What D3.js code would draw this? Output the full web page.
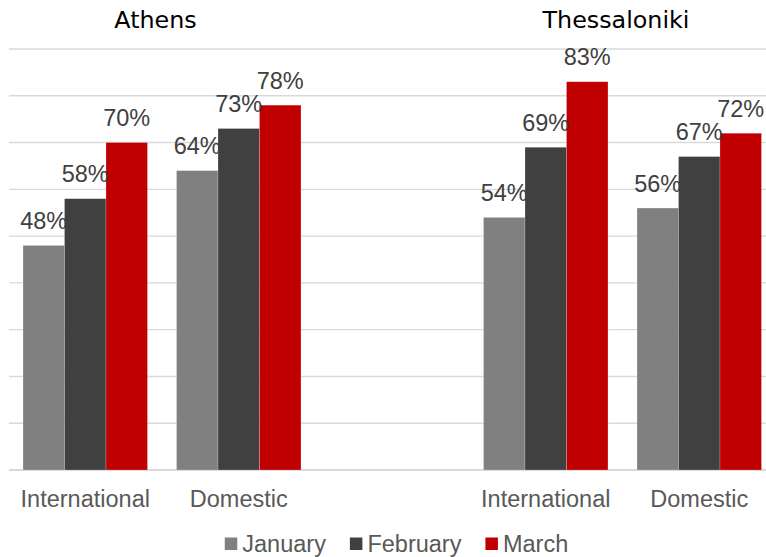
<!DOCTYPE html>
<html>
<head>
<meta charset="utf-8">
<script src="https://cdn.jsdelivr.net/npm/d3@7"></script>
<style>
  html,body{margin:0;padding:0;background:#fff;overflow:hidden;}
  svg{display:block;}
</style>
</head>
<body>
<div id="chart"></div>
<script>
(function(){
  // data
  const cities = ["Athens","Thessaloniki"];
  const segments = ["International","Domestic"];
  const months = ["January","February","March"];
  const athensValues = [[48,58,70],[64,73,78]];        // [segment][month]
  const thessValues  = [[54,69,83],[56,67,72]];
  const yTicks = [0,10,20,30,40,50,60,70,80,90];
  const colors = ["#808080","#404040","#C00000"];

  const W=766, H=557;
  const FS=23.5;
  const svg=d3.select("#chart").append("svg").attr("width",W).attr("height",H);

  const slots=["Athens|International","Athens|Domestic","gap","Thessaloniki|International","Thessaloniki|Domestic"];
  const x0=d3.scaleBand().domain(slots).range([8.5,776]).padding(0);
  const x1=d3.scaleBand().domain(months).range([0,x0.bandwidth()]).paddingInner(0).paddingOuter(0.35);
  const y=d3.scaleLinear().domain([0,90]).range([470,49]);

  // gridlines
  svg.append("g").selectAll("line").data(yTicks).join("line")
    .attr("x1",9).attr("x2",W)
    .attr("y1",d=>y(d)).attr("y2",d=>y(d))
    .attr("stroke","#d9d9d9").attr("stroke-width",d=>d===0?2:1.4);

  const rows=[];
  cities.forEach((c,ci)=>{
    const vals=ci===0?athensValues:thessValues;
    segments.forEach((s,si)=>{
      months.forEach((m,mi)=>rows.push({slot:c+"|"+s,month:m,mi:mi,v:vals[si][mi]}));
    });
  });

  const bars=svg.append("g");
  bars.selectAll("rect").data(rows).join("rect")
    .attr("x",d=>x0(d.slot)+x1(d.month))
    .attr("width",x1.bandwidth())
    .attr("y",d=>y(d.v))
    .attr("height",d=>y(0)-y(d.v))
    .attr("fill",d=>colors[d.mi])
    .attr("stroke","#fff").attr("stroke-width",0.4).attr("stroke-opacity",0.5);

  // value labels
  svg.append("g").selectAll("text").data(rows).join("text")
    .attr("x",d=>x0(d.slot)+x1(d.month)+x1.bandwidth()/2)
    .attr("y",d=>y(d.v)-16.5)
    .attr("text-anchor","middle")
    .attr("font-family","'Liberation Sans',Arial,sans-serif")
    .attr("font-size",FS)
    .attr("fill","#404040")
    .text(d=>d.v+"%");

  // category labels
  const cats=slots.filter(s=>s!=="gap");
  svg.append("g").selectAll("text").data(cats).join("text")
    .attr("x",d=>x0(d)+x0.bandwidth()/2)
    .attr("y",506.5)
    .attr("text-anchor","middle")
    .attr("font-family","'Liberation Sans',Arial,sans-serif")
    .attr("font-size",FS)
    .attr("fill","#595959")
    .text(d=>d.split("|")[1]);

  // city titles
  svg.append("g").selectAll("text").data(cities).join("text")
    .attr("x",c=>(x0(c+"|International")+x0(c+"|Domestic")+x0.bandwidth())/2-6.5)
    .attr("y",28.3)
    .attr("text-anchor","middle")
    .attr("font-family","'DejaVu Sans',Verdana,sans-serif")
    .attr("font-size",23.8)
    .attr("fill","#000")
    .text(c=>c);

  // legend
  const lg=svg.append("g");
  let lx=0;
  months.forEach((m,i)=>{
    const it=lg.append("g").attr("transform",`translate(${lx},0)`);
    it.append("rect").attr("x",0).attr("y",537.5).attr("width",12.5).attr("height",12.5).attr("fill",colors[i]);
    const t=it.append("text").attr("x",17.5).attr("y",551.5)
      .attr("font-family","'Liberation Sans',Arial,sans-serif")
      .attr("font-size",FS).attr("fill","#595959").text(m);
    lx+=17.5+t.node().getComputedTextLength()+24;
  });
  const lw=lx-24;
  lg.attr("transform",`translate(${396.5-lw/2},0)`);
})();
</script>
</body>
</html>
